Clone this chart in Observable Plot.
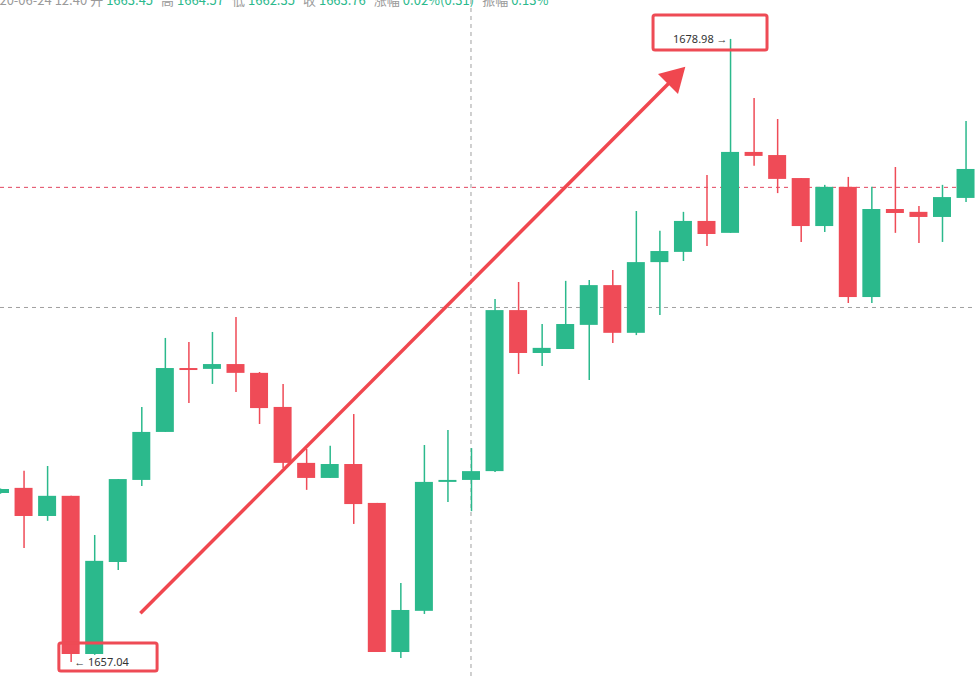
<!DOCTYPE html>
<html><head><meta charset="utf-8">
<script src="https://cdn.jsdelivr.net/npm/d3@7"></script>
<script src="https://cdn.jsdelivr.net/npm/@observablehq/plot@0.6"></script>
<style>
html,body{margin:0;padding:0;background:#fff;overflow:hidden;}
#wrap{position:relative;width:976px;height:677px;overflow:hidden;}
#hdr{position:absolute;top:-7px;left:-15px;font-size:13px;line-height:13px;font-family:"Noto Sans CJK SC","Noto Sans",sans-serif;color:#9a9a9a;white-space:nowrap;z-index:2;}
#hdr .v{color:#2bb98c;margin:0 5px 0 3px;}
#hdr .l{margin-left:3px;}
</style></head><body>
<div id="wrap"><div id="chart"></div><div id="hdr"></div></div>
<script>
// OHLC per 5-minute candle (index 0..41)
const opens  = [1662.99,1663.17,1662.18,1662.89,1657.32,1660.56,1663.45,1665.14,1667.39,1667.36,1667.53,1667.22,1666.02,1664.05,1663.52,1664.01,1662.64,1657.39,1658.84,1663.38,1663.45,1663.76,1669.43,1667.92,1668.06,1668.91,1670.31,1668.63,1671.12,1671.48,1672.57,1672.15,1675.00,1674.89,1674.08,1672.39,1673.77,1669.89,1672.99,1672.89,1672.71,1673.38];
const closes = [1663.13,1662.18,1662.89,1657.32,1660.60,1663.48,1665.14,1667.39,1667.32,1667.53,1667.22,1665.98,1664.05,1663.52,1664.01,1662.60,1657.39,1658.87,1663.38,1663.45,1663.76,1669.43,1667.92,1668.10,1668.94,1670.31,1668.63,1671.12,1671.51,1672.57,1672.11,1675.00,1674.86,1674.05,1672.39,1673.77,1669.89,1672.99,1672.85,1672.71,1673.41,1674.40];
const highs  = [1663.15,1663.77,1663.94,1662.89,1661.51,1663.48,1666.02,1668.45,1668.31,1668.66,1669.19,1667.25,1666.83,1664.54,1664.65,1665.77,1662.64,1659.82,1664.68,1665.21,1664.57,1669.82,1670.42,1668.94,1670.46,1670.49,1670.84,1672.92,1672.22,1672.89,1674.19,1678.98,1676.90,1676.16,1674.08,1673.84,1674.12,1673.77,1674.47,1673.10,1673.84,1676.09];
const lows   = [1662.96,1661.05,1662.01,1657.04,1657.29,1660.28,1663.24,1665.14,1666.16,1666.83,1666.55,1665.42,1663.87,1663.10,1663.52,1661.90,1657.39,1657.18,1658.73,1662.67,1662.35,1663.73,1667.18,1667.46,1668.06,1666.97,1668.27,1668.55,1669.26,1671.16,1671.69,1672.15,1674.51,1673.55,1671.83,1672.18,1669.68,1669.68,1672.15,1671.79,1671.83,1673.24];

// reference lines / crosshair
const hLineRed = 1673.77;
const hLineGray = 1669.54;
const crossIndex = 20;

// header (crosshair candle info)
const headerDate = "2020-06-24 12:40";
const headerLabels = ["开","高","低","收","涨幅","振幅"];
const headerValues = ["1663.45","1664.57","1662.35","1663.76","0.02%(0.31)","0.13%"];

// annotations
const maxLabel = {i:31, p:1678.98, t:"1678.98 \u2192"};
const minLabel = {i:3,  p:1657.04, t:"\u2190 1657.04"};
const boxes = [
  {x1:27.73, x2:32.57, y1:1678.59, y2:1679.82},
  {x1:2.50,  x2:6.67,  y1:1656.72, y2:1657.71}
];
const arrowFrom = {i:5.94, p:1658.77};
const arrowTo   = {i:28.59, p:1677.61};

const GREEN = "#2bb98c", RED = "#ef4b57";
const candles = opens.map((o,i)=>({i,o,c:closes[i],h:highs[i],l:lows[i]}));
const col = d => d.c >= d.o ? GREEN : RED;

const chart = Plot.plot({
  width:976, height:677, margin:0,
  style:{background:"#fff", fontFamily:"Noto Sans, sans-serif"},
  x:{domain:[0,41.444], axis:null},
  y:{domain:[1656.51,1680.35], axis:null},
  marks:[
    Plot.ruleY([hLineGray],{stroke:"#a0a0a0", strokeDasharray:"4,4", strokeWidth:1}),
    Plot.ruleY([hLineRed],{stroke:"#e2455f", strokeDasharray:"4,4", strokeWidth:1}),
    Plot.ruleX([crossIndex],{stroke:"#a0a0a0", strokeDasharray:"4,4", strokeWidth:1, dx:-0.5}),
    Plot.ruleX(candles,{x:"i", y1:"l", y2:"h", stroke:col, strokeWidth:1.5}),
    Plot.rect(candles,{x1:d=>d.i-0.382, x2:d=>d.i+0.382, y1:"o", y2:"c", fill:col}),
    Plot.link([{a:arrowFrom,b:arrowTo}],{x1:d=>d.a.i, y1:d=>d.a.p, x2:d=>d.b.i, y2:d=>d.b.p, stroke:"#f0474f", strokeWidth:3.5}),
    Plot.dot([arrowTo],{x:"i", y:"p", symbol:"triangle", r:10.5, rotate:45, fill:"#f0474f", stroke:"none"}),
    Plot.rect(boxes,{x1:"x1", x2:"x2", y1:"y1", y2:"y2", fill:"none", stroke:"#ee4b55", strokeWidth:3, rx:2}),
    Plot.text([maxLabel],{x:"i", y:"p", text:"t", textAnchor:"end", dx:-3, fontSize:11, fill:"#333"}),
    Plot.text([minLabel],{x:"i", y:"p", text:"t", textAnchor:"start", dx:3, fontSize:11, fill:"#333"})
  ]
});
document.getElementById("chart").appendChild(chart);

const hdr = document.getElementById("hdr");
let html = `<span>${headerDate}</span>`;
headerLabels.forEach((l,k)=>{ html += `<span class="l">${l}</span><span class="v">${headerValues[k]}</span>`; });
hdr.innerHTML = html;
</script>
</body></html>
